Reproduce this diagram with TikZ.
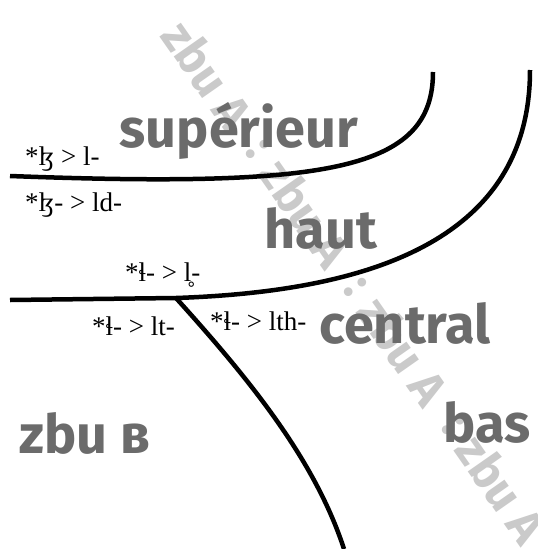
\documentclass[tikz,border=0pt]{standalone}
\usepackage{fontspec}
\setmainfont{Liberation Serif}
\newfontfamily\labfont{Fira Sans}
\definecolor{labgray}{HTML}{6B6B6B}
\definecolor{wmgray}{HTML}{CACACA}
\begin{document}
\begin{tikzpicture}[x=1pt,y=-1pt,
  border/.style={line width=4.5pt,black},
  region/.style={font=\labfont\bfseries\fontsize{54}{54}\selectfont,text=labgray,inner sep=0pt,anchor=base},
  sound/.style={font=\fontsize{27}{27}\selectfont,inner sep=0pt,anchor=base west},
  water/.style={font=\labfont\bfseries\fontsize{48}{48}\selectfont,text=wmgray,inner sep=0pt,rotate=-55}]
\useasboundingbox (0,0) rectangle (538,549);
% watermark
\node[water] (w1) at (208,75) {zbu A};
\node[water] (k1) at (257,149) {:};
\node[water] (w2) at (306,213) {zbu A};
\node[water] (k2) at (355,287) {:};
\node[water] (w3) at (404,351) {zbu A};
\node[water] (k3) at (453,425) {:};
\node[water] (w4) at (502,489) {zbu A};
% borders
\coordinate (s0) at (10,176);
\coordinate (s1) at (433,72);
\coordinate (h0) at (10,300);
\coordinate (j) at (176,298);
\coordinate (h1) at (530,70);
\coordinate (b1) at (344,549);
\draw[border] (s0) .. controls (330,188) and (433,170) .. (s1);
\draw[border] (h0) -- (j) .. controls (350,292) and (530,250) .. (h1);
\draw[border] (j) .. controls (250,380) and (315,460) .. (b1);
% regions
\node[region] (sup) at (239,147) {supérieur};
\node[region] (haut) at (321,248) {haut};
\node[region] (cen) at (405,343) {central};
\node[region] (bas) at (487,442) {bas};
\node[region] (zbub) at (85,453) {zbu в};
% sound changes
\node[sound] (c1) at (25,165) {*ɮ > l-};
\node[sound] (c2) at (25,211) {*ɮ- > ld-};
\node[sound] (c3) at (125,281) {*ɬ- > l̥-};
\node[sound] (c4) at (92,335) {*ɬ- > lt-};
\node[sound] (c5) at (210,330) {*ɬ- > lth-};
\end{tikzpicture}
\end{document}
